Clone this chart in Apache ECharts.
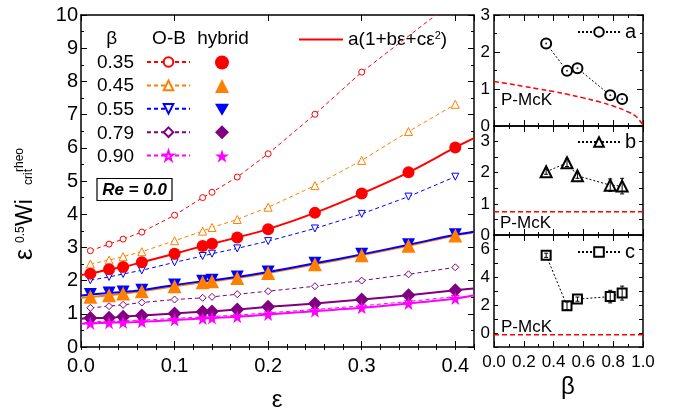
<!DOCTYPE html>
<html><head><meta charset="utf-8">
<script src="https://cdn.jsdelivr.net/npm/echarts@6/dist/echarts.min.js"></script>
<style>html,body{margin:0;padding:0;background:#fff}#c{width:681px;height:410px}</style>
</head><body><div id="c"></div>
<script>
// ---------- data ----------
const eps = [0.01, 0.03, 0.045, 0.065, 0.1, 0.13, 0.14, 0.167, 0.2, 0.25, 0.3, 0.35, 0.4];
const betaLabels = ['0.35', '0.45', '0.55', '0.79', '0.90'];
// O-B (open symbols, dashed)
const ob035 = [2.90, 3.10, 3.25, 3.46, 3.97, 4.50, 4.66, 5.12, 5.82, 7.01, 8.28, null, 10.45];
const ob045 = [2.50, 2.62, 2.72, 2.87, 3.20, 3.49, 3.60, 3.84, 4.21, 4.86, 5.62, 6.49, 7.31];
const ob055 = [2.01, 2.11, 2.20, 2.31, 2.55, 2.74, 2.81, 2.97, 3.19, 3.57, 4.01, 4.53, 5.13];
const ob079 = [1.18, 1.23, 1.27, 1.34, 1.43, 1.48, 1.51, 1.59, 1.68, 1.83, 2.00, 2.19, 2.40];
const ob090 = [0.76, 0.78, 0.79, 0.81, 0.86, 0.91, 0.92, 0.96, 1.03, 1.13, 1.24, 1.37, 1.52];
// hybrid (filled symbols)
const hy035 = [2.21, 2.34, 2.41, 2.55, 2.81, 3.04, 3.11, 3.30, 3.55, 4.04, 4.62, 5.26, 6.01];
const hy045 = [1.51, 1.56, 1.61, 1.68, 1.83, 1.95, 1.98, 2.08, 2.23, 2.49, 2.76, 3.05, 3.36];
const hy055 = [1.58, 1.63, 1.66, 1.71, 1.87, 1.98, 2.01, 2.11, 2.26, 2.52, 2.79, 3.08, 3.38];
const hy079 = [0.87, 0.88, 0.91, 0.95, 1.01, 1.06, 1.07, 1.13, 1.21, 1.31, 1.43, 1.56, 1.71];
const hy090 = [0.71, 0.73, 0.74, 0.76, 0.81, 0.86, 0.87, 0.91, 0.98, 1.08, 1.18, 1.31, 1.46];
// fit curve a(1+bε+cε²) end values at ε = 0 and ε = 0.42
const fitEps = [0, 0.42];
const fitStart = [2.17, 1.48, 1.55, 0.85, 0.70];
const fitEnd = [6.29, 3.45, 3.47, 1.76, 1.56];
// right panels
const betas = [0.35, 0.49, 0.56, 0.78, 0.86];
const aVals = [2.23, 1.49, 1.56, 0.83, 0.73];
const bVals = [2.03, 2.32, 1.90, 1.60, 1.57];
const bErr = [0.08, 0.12, 0.08, 0.20, 0.25];
const cVals = [5.55, 1.94, 2.42, 2.60, 2.85];
const cErr = [0.15, 0.28, 0.15, 0.45, 0.50];
const pmckBeta = [0, 0.1, 0.2, 0.3, 0.4, 0.5, 0.6, 0.7, 0.8, 0.9, 0.95, 1.0];
const pmckA = [1.20, 1.14, 1.07, 1.00, 0.93, 0.85, 0.76, 0.66, 0.54, 0.38, 0.27, 0.03];
const pmckB = [0.75, 0.75];
const pmckC = [-0.12, -0.12];
const pmckLineBeta = [0, 1];
const mainXTicks = ['0.0', '0.1', '0.2', '0.3', '0.4'];

// ---------- styling ----------
const FONT = '"Liberation Sans", Arial, Helvetica, sans-serif';
const colors = ['#ff0000', '#ff8000', '#0000ff', '#800080', '#ff00ff'];
const DOWN = 'path://M0,0L10,0L5,8.66Z';
const STAR = 'path://M50,0L61.8,35.1L98.9,35.1L68.9,56.7L80.3,91.9L50,70.2L19.7,91.9L31.1,56.7L1.1,35.1L38.2,35.1Z';
const symbols = ['circle', 'triangle', DOWN, 'diamond', STAR];
const hySizes = [12, 14, 13, 14, 13];
const obSizes = [6, 8, 7, 7, 8];
const obData = [ob035, ob045, ob055, ob079, ob090];
const hyData = [hy035, hy045, hy055, hy079, hy090];

const pairs = (xs, ys) => xs.map((x, i) => [x, ys[i]]).filter(p => p[1] !== null);

const grids = [
  { left: 81, top: 15, width: 393, height: 332 },
  { left: 494, top: 15, width: 149, height: 111 },
  { left: 494, top: 126, width: 149, height: 109 },
  { left: 494, top: 235, width: 149, height: 112 }
];

function xAx(grid, pos, opts) {
  return Object.assign({
    type: 'value', gridIndex: grid, position: pos,
    axisLine: { show: true, onZero: false, lineStyle: { color: '#000', width: 1.5 } },
    axisTick: { show: true, inside: true, length: 6, lineStyle: { color: '#000', width: 1 } },
    minorTick: { show: true, splitNumber: 2, length: 3, lineStyle: { color: '#000', width: 1 } },
    splitLine: { show: false }, minorSplitLine: { show: false },
    axisLabel: { show: false }
  }, opts);
}
const labelBase = { color: '#000', fontFamily: FONT };

const xAxis = [
  xAx(0, 'bottom', { min: 0, max: 0.42, interval: 0.1, minorTick: { show: false },
    axisLabel: Object.assign({ show: true, fontSize: 20, margin: 9, showMaxLabel: false,
      formatter: v => { const i = Math.round(v * 10); return (Math.abs(v - i / 10) < 1e-6 && i < mainXTicks.length) ? mainXTicks[i] : ''; } }, labelBase) }),
  xAx(0, 'bottom', { min: 0, max: 0.42, interval: 0.02, minorTick: { show: false }, axisLine: { show: false },
    axisTick: { show: true, inside: true, length: 3, lineStyle: { color: '#000' } } }),
  xAx(0, 'top', { min: 0, max: 0.42, interval: 0.1, minorTick: { show: false } }),
  xAx(0, 'top', { min: 0, max: 0.42, interval: 0.02, minorTick: { show: false }, axisLine: { show: false },
    axisTick: { show: true, inside: true, length: 3, lineStyle: { color: '#000' } } }),
  xAx(1, 'bottom', { min: 0, max: 1, interval: 0.2 }),
  xAx(1, 'top', { min: 0, max: 1, interval: 0.2 }),
  xAx(2, 'bottom', { min: 0, max: 1, interval: 0.2 }),
  xAx(2, 'top', { min: 0, max: 1, interval: 0.2 }),
  xAx(3, 'bottom', { min: 0, max: 1, interval: 0.2,
    axisLabel: Object.assign({ show: true, fontSize: 17, margin: 7, formatter: v => v.toFixed(1) }, labelBase) }),
  xAx(3, 'top', { min: 0, max: 1, interval: 0.2 })
];

function yAx(grid, pos, opts) {
  return Object.assign({
    type: 'value', gridIndex: grid, position: pos,
    axisLine: { show: true, onZero: false, lineStyle: { color: '#000', width: 1.5 } },
    axisTick: { show: true, inside: true, length: 6, lineStyle: { color: '#000', width: 1 } },
    minorTick: { show: true, splitNumber: 2, length: 3, lineStyle: { color: '#000', width: 1 } },
    splitLine: { show: false }, minorSplitLine: { show: false },
    axisLabel: { show: false }
  }, opts);
}
const yAxis = [
  yAx(0, 'left', { min: 0, max: 10, interval: 1,
    axisLabel: Object.assign({ show: true, fontSize: 20, margin: 3 }, labelBase) }),
  yAx(0, 'right', { min: 0, max: 10, interval: 1 }),
  yAx(1, 'left', { min: 0, max: 3, interval: 1,
    axisLabel: Object.assign({ show: true, fontSize: 17, margin: 4 }, labelBase) }),
  yAx(1, 'right', { min: 0, max: 3, interval: 1 }),
  yAx(2, 'left', { min: 0, max: 3.5, interval: 0.5, minorTick: { show: false }, axisTick: { show: true, inside: true, length: 4, lineStyle: { color: '#000' } },
    axisLabel: Object.assign({ show: true, fontSize: 17, margin: 4, showMaxLabel: false,
      formatter: v => (Math.abs(v - Math.round(v)) < 1e-6 ? String(Math.round(v)) : '') }, labelBase) }),
  yAx(2, 'right', { min: 0, max: 3.5, interval: 0.5, minorTick: { show: false }, axisTick: { show: true, inside: true, length: 4, lineStyle: { color: '#000' } } }),
  yAx(3, 'left', { min: -1, max: 7, interval: 1, minorTick: { show: false }, axisTick: { show: true, inside: true, length: 4, lineStyle: { color: '#000' } },
    axisLabel: Object.assign({ show: true, fontSize: 17, margin: 4,
      formatter: v => (Math.round(v) % 2 === 0 && v < 7 ? String(Math.round(v)) : '') }, labelBase) }),
  yAx(3, 'right', { min: -1, max: 7, interval: 1, minorTick: { show: false }, axisTick: { show: true, inside: true, length: 4, lineStyle: { color: '#000' } } })
];

const series = [];
fitStart.forEach((s, k) => {
  series.push({
    name: k === 0 ? 'fit' : 'fit' + k, type: 'line', xAxisIndex: 0, yAxisIndex: 0,
    data: [[fitEps[0], s]].concat(pairs(eps, hyData[k]), [[fitEps[1], fitEnd[k]]]),
    symbol: 'none', smooth: 0.3, lineStyle: { color: colors[k], width: 2 }, itemStyle: { color: colors[k] },
    z: 2, silent: true, clip: true
  });
});
obData.forEach((d, k) => {
  series.push({
    name: 'OB' + betaLabels[k], type: 'line', xAxisIndex: 0, yAxisIndex: 0,
    data: pairs(eps, d), symbol: symbols[k], symbolSize: obSizes[k], showSymbol: true,
    lineStyle: { color: colors[k], width: 1, type: [4, 3] },
    itemStyle: { color: '#fff', borderColor: colors[k], borderWidth: 1 },
    z: 3, clip: true, silent: true
  });
});
[0, 2, 1, 3, 4].forEach(k => {
  series.push({
    name: 'HY' + betaLabels[k], type: 'scatter', xAxisIndex: 0, yAxisIndex: 0,
    data: pairs(eps, hyData[k]), symbol: symbols[k], symbolSize: hySizes[k],
    itemStyle: { color: colors[k], opacity: 1 }, z: 4, silent: true
  });
});
const errSeries = (vals, errs, xi, yi) => ({
  type: 'custom', xAxisIndex: xi, yAxisIndex: yi, silent: true, z: 5,
  data: betas.map((b, i) => [b, vals[i], errs[i]]),
  renderItem: (params, api) => {
    const x = api.value(0), y = api.value(1), e = api.value(2);
    const p1 = api.coord([x, y - e]), p2 = api.coord([x, y + e]);
    const st = { stroke: '#000', lineWidth: 1 };
    return { type: 'group', children: [
      { type: 'line', shape: { x1: p1[0], y1: p1[1], x2: p2[0], y2: p2[1] }, style: st },
      { type: 'line', shape: { x1: p1[0] - 2, y1: p1[1], x2: p1[0] + 2, y2: p1[1] }, style: st },
      { type: 'line', shape: { x1: p2[0] - 2, y1: p2[1], x2: p2[0] + 2, y2: p2[1] }, style: st }
    ] };
  }
});
series.push(
  { name: 'pa', type: 'line', xAxisIndex: 4, yAxisIndex: 2, data: pairs(pmckBeta, pmckA), smooth: 0.4, symbol: 'none',
    lineStyle: { color: '#ff0000', width: 1.5, type: [5, 3] }, silent: true, z: 2 },
  { name: 'a', type: 'line', xAxisIndex: 4, yAxisIndex: 2, data: pairs(betas, aVals), symbol: 'emptyCircle', symbolSize: 10,
    lineStyle: { color: '#000', width: 1, type: [2, 2] }, itemStyle: { color: '#000', borderWidth: 1 }, silent: true, z: 4 },
  { name: 'adot', type: 'scatter', xAxisIndex: 4, yAxisIndex: 2, data: pairs(betas, aVals), symbol: 'circle', symbolSize: 2,
    itemStyle: { color: '#000' }, silent: true, z: 5 },
  { name: 'pb', type: 'line', xAxisIndex: 6, yAxisIndex: 4, data: pairs(pmckLineBeta, pmckB), symbol: 'none',
    lineStyle: { color: '#ff0000', width: 1.5, type: [5, 3] }, silent: true, z: 2 },
  { name: 'b', type: 'line', xAxisIndex: 6, yAxisIndex: 4, data: pairs(betas, bVals), symbol: 'emptyTriangle', symbolSize: 11,
    lineStyle: { color: '#000', width: 1, type: [2, 2] }, itemStyle: { color: '#000', borderWidth: 1 }, silent: true, z: 4 },
  errSeries(bVals, bErr, 6, 4),
  { name: 'pc', type: 'line', xAxisIndex: 8, yAxisIndex: 6, data: pairs(pmckLineBeta, pmckC), symbol: 'none',
    lineStyle: { color: '#ff0000', width: 1.5, type: [5, 3] }, silent: true, z: 2 },
  { name: 'c', type: 'line', xAxisIndex: 8, yAxisIndex: 6, data: pairs(betas, cVals), symbol: 'emptyRect', symbolSize: 9,
    lineStyle: { color: '#000', width: 1, type: [2, 2] }, itemStyle: { color: '#000', borderWidth: 1 }, silent: true, z: 4 },
  errSeries(cVals, cErr, 8, 6)
);

const legendBase = { selectedMode: false, orient: 'vertical', padding: 0, inactiveColor: '#000' };
const legend = [
  Object.assign({}, legendBase, { data: betaLabels.map(b => 'OB' + b), left: 146, top: 56, itemWidth: 43, itemHeight: 12, itemGap: 11.6,
    formatter: () => '', textStyle: { fontSize: 1 } }),
  Object.assign({}, legendBase, { data: betaLabels.map(b => 'HY' + b), left: 215, top: 55.5, itemWidth: 14, itemHeight: 14, itemGap: 9.6,
    formatter: () => '', textStyle: { fontSize: 1 } }),
  Object.assign({}, legendBase, { data: [{ name: 'fit', icon: 'rect' }], left: 299, top: 30, itemWidth: 44, itemHeight: 2,
    formatter: () => '{t|a(1+bε+cε}{s|2}{t|)}',
    textStyle: { fontFamily: FONT, color: '#000', rich: { t: { fontSize: 19, fontFamily: FONT, color: '#000' }, s: { fontSize: 11, fontFamily: FONT, color: '#000', verticalAlign: 'top', padding: [0, 0, 8, 0] } } } }),
  Object.assign({}, legendBase, { data: ['a'], left: 577, top: 22, itemWidth: 42, itemHeight: 12,
    textStyle: { fontSize: 20, fontFamily: FONT, color: '#000' } }),
  Object.assign({}, legendBase, { data: ['b'], left: 577, top: 132, itemWidth: 42, itemHeight: 12,
    textStyle: { fontSize: 20, fontFamily: FONT, color: '#000' } }),
  Object.assign({}, legendBase, { data: ['c'], left: 577, top: 242, itemWidth: 42, itemHeight: 12,
    textStyle: { fontSize: 20, fontFamily: FONT, color: '#000' } })
];

const T = (text, x, y, size, extra) => ({ type: 'text', x, y, silent: true, z: 100,
  style: Object.assign({ text, fill: '#000', font: size + 'px ' + FONT, textAlign: 'left', textVerticalAlign: 'middle' }, extra || {}) });

const graphic = [
  T('β', 111.7, 38.5, 19, { textAlign: 'center' }),
  T('O-B', 169, 38.5, 19, { textAlign: 'center' }),
  T('hybrid', 223, 38.5, 19, { textAlign: 'center' }),
  T(betaLabels[0], 97, 62.5, 19), T(betaLabels[1], 97, 86, 19), T(betaLabels[2], 97, 110, 19),
  T(betaLabels[3], 97, 133.5, 19), T(betaLabels[4], 97, 157, 19),
  { type: 'rect', shape: { x: 97, y: 178.5, width: 75, height: 22 }, style: { fill: '#fff', stroke: '#000', lineWidth: 1.2 }, z: 99, silent: true },
  T('Re = 0.0', 134.5, 190, 17, { textAlign: 'center', font: 'italic bold 17px ' + FONT }),
  T('P-McK', 501, 100, 17), T('P-McK', 500, 223, 17), T('P-McK', 501, 327, 17),
  T('ε', 277, 400, 24, { textAlign: 'center' }),
  T('β', 568, 387, 24, { textAlign: 'center' }),
  { type: 'group', x: 33, y: 260, rotation: Math.PI / 2, silent: true, z: 100, children: [
    T('ε', 0, -7.5, 25),
    T('0.5', 17, -12, 12),
    T('Wi', 34, -7, 23),
    T('rheo', 88, -13, 12),
    T('crit', 75, -4, 12)
  ] }
];

const chart = echarts.init(document.getElementById('c'), null, { renderer: 'canvas' });
chart.setOption({
  animation: false, backgroundColor: '#fff',
  textStyle: { fontFamily: FONT },
  grid: grids, xAxis, yAxis, series, legend, graphic
});
</script></body></html>
